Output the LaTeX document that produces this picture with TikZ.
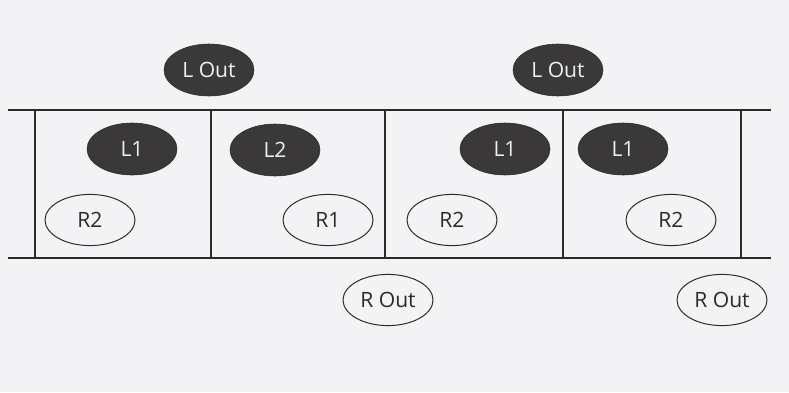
\documentclass[tikz,border=0pt]{standalone}
\usepackage{fontspec}
\setmainfont{Open Sans}
\usepackage{tikz}
\usepackage{xcolor}
\usetikzlibrary{shapes.geometric,backgrounds}
\definecolor{Paper}{HTML}{F3F3F6}
\definecolor{Ink}{HTML}{2A2A2A}
\definecolor{DarkFill}{HTML}{3A3838}
\definecolor{LightText}{HTML}{F0F0F0}

\tikzset{
  lball/.style={ellipse,draw=Ink,fill=DarkFill,text=LightText,minimum width=2.25cm,minimum height=1.3cm,inner sep=0pt,font=\fontsize{15}{17}\selectfont},
  rball/.style={ellipse,draw=Ink,line width=0.7pt,text=Ink,minimum width=2.25cm,minimum height=1.28cm,inner sep=0pt,font=\fontsize{15}{17}\selectfont}
}

\begin{document}
\begin{tikzpicture}
  \fill[Paper] (0,0) rectangle (19.725,9.8);
  \useasboundingbox (0,0) rectangle (19.725,9.8);
  % rails
  \draw[Ink,line width=2pt] (0.2,7.05) -- (19.275,7.05);
  \draw[Ink,line width=2pt] (0.2,3.35) -- (19.275,3.35);
  \foreach \x in {0.875,5.275,9.625,14.075,18.525}
    \draw[Ink,line width=1.4pt] (\x,7.05) -- (\x,3.35);
  % left-moving balls
  \node[lball] (lout1) at (5.225,8.05) {L Out};
  \node[lball] (lout2) at (13.95,8.05) {L Out};
  \node[lball] (la) at (3.3,6.075) {L1};
  \node[lball] (lb) at (6.875,6.05) {L2};
  \node[lball] (lc) at (12.625,6.075) {L1};
  \node[lball] (ld) at (15.575,6.075) {L1};
  % right-moving balls
  \node[rball] (ra) at (2.25,4.3) {R2};
  \node[rball] (rb) at (8.2,4.3) {R1};
  \node[rball] (rc) at (11.3,4.3) {R2};
  \node[rball] (rd) at (16.775,4.3) {R2};
  \node[rball] (rout1) at (9.7,2.3) {R Out};
  \node[rball] (rout2) at (18.05,2.3) {R Out};
\end{tikzpicture}
\end{document}
